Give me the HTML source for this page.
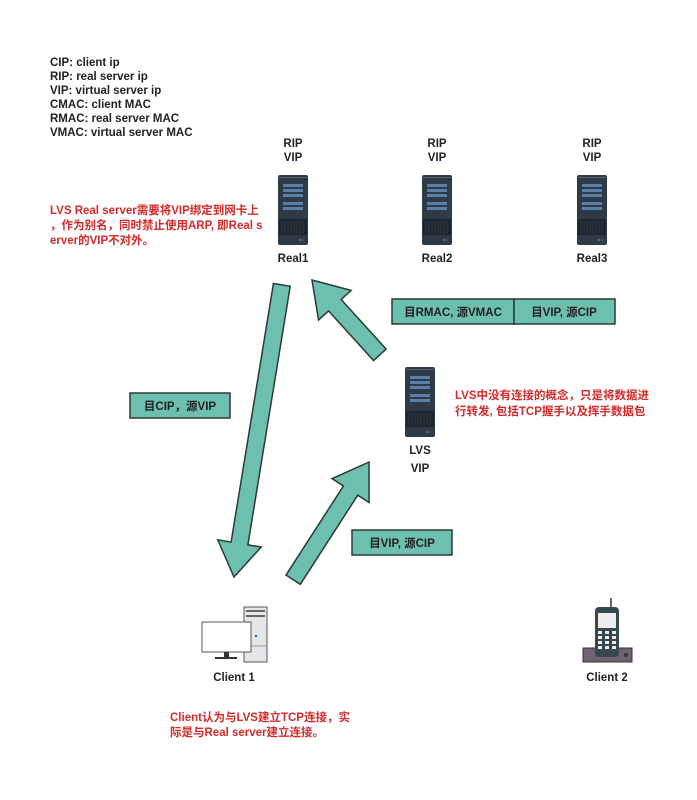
<!DOCTYPE html>
<html><head><meta charset="utf-8"><style>
body{margin:0;background:#fff;width:697px;height:800px;overflow:hidden}
svg{display:block}
text{font-family:"Liberation Sans","Noto Sans CJK SC",sans-serif;font-weight:bold}
.k{font-size:11.5px;fill:#222}
.r{font-size:11.5px;fill:#d42a2a}
.lb{font-size:11.5px;fill:#222;text-anchor:middle}
</style></head><body>
<svg width="697" height="800" viewBox="0 0 697 800">
<defs>
<symbol id="srv" viewBox="0 0 30 70">
<rect x="0" y="0" width="30" height="70" rx="2" fill="#2e3a46"/>
<rect x="1" y="2" width="28" height="1" fill="#55636f"/>
<rect x="5" y="9" width="20" height="3" fill="#5a7fa8"/>
<rect x="5" y="14" width="20" height="3" fill="#5a7fa8"/>
<rect x="5" y="19" width="20" height="3" fill="#5a7fa8"/>
<rect x="5" y="27" width="20" height="3" fill="#5a7fa8"/>
<rect x="5" y="32" width="20" height="3" fill="#5a7fa8"/>
<rect x="1" y="44" width="28" height="16" fill="#1c252d"/>
<g stroke="#3b4854" stroke-width="0.6">
<line x1="4" y1="45" x2="4" y2="59"/><line x1="7" y1="45" x2="7" y2="59"/><line x1="10" y1="45" x2="10" y2="59"/><line x1="13" y1="45" x2="13" y2="59"/><line x1="16" y1="45" x2="16" y2="59"/><line x1="19" y1="45" x2="19" y2="59"/><line x1="22" y1="45" x2="22" y2="59"/><line x1="25" y1="45" x2="25" y2="59"/>
</g>
<circle cx="22" cy="65" r="0.9" fill="#3c3"/><circle cx="25" cy="65" r="0.9" fill="#c33"/>
</symbol>
</defs>

<text class="k" x="50" y="66">CIP: client ip</text>
<text class="k" x="50" y="80">RIP: real server ip</text>
<text class="k" x="50" y="94">VIP: virtual server ip</text>
<text class="k" x="50" y="108">CMAC: client MAC</text>
<text class="k" x="50" y="122">RMAC: real server MAC</text>
<text class="k" x="50" y="136">VMAC: virtual server MAC</text>

<text class="r" x="50" y="214">LVS Real server需要将VIP绑定到网卡上</text>
<text class="r" x="50" y="229">，作为别名，同时禁止使用ARP, 即Real s</text>
<text class="r" x="50" y="244">erver的VIP不对外。</text>

<text class="lb" x="293" y="147">RIP</text><text class="lb" x="293" y="161">VIP</text>
<text class="lb" x="437" y="147">RIP</text><text class="lb" x="437" y="161">VIP</text>
<text class="lb" x="592" y="147">RIP</text><text class="lb" x="592" y="161">VIP</text>

<use href="#srv" x="278" y="175" width="30" height="70"/>
<use href="#srv" x="422" y="175" width="30" height="70"/>
<use href="#srv" x="577" y="175" width="30" height="70"/>
<use href="#srv" x="405" y="367" width="30" height="70"/>

<text class="lb" x="293" y="262">Real1</text>
<text class="lb" x="437" y="262">Real2</text>
<text class="lb" x="592" y="262">Real3</text>
<text class="lb" x="420" y="454">LVS</text>
<text class="lb" x="420" y="472">VIP</text>

<text class="r" x="455" y="399">LVS中没有连接的概念，只是将数据进</text>
<text class="r" x="455" y="415">行转发, 包括TCP握手以及挥手数据包</text>

<g fill="#6dbfae" stroke="#2b3a36" stroke-width="1.5" stroke-linejoin="miter">
<polygon transform="translate(234,577) rotate(99.3)" points="0,0 -34,-22 -34,-8.5 -296,-8.5 -296,8.5 -34,8.5 -34,22"/>
<polygon transform="translate(312,280) rotate(-132.2)" points="0,0 -34,-22 -34,-8.5 -101,-8.5 -101,8.5 -34,8.5 -34,22"/>
<polygon transform="translate(369,462) rotate(-57.2)" points="0,0 -34,-22 -34,-8.5 -140,-8.5 -140,8.5 -34,8.5 -34,22"/>
</g>

<g fill="#6dbfae" stroke="#2b3a36" stroke-width="1.5">
<rect x="392" y="299" width="122" height="25"/>
<rect x="514" y="299" width="101" height="25"/>
<rect x="130" y="393" width="100" height="25"/>
<rect x="352" y="530" width="100" height="25"/>
</g>
<text class="lb" x="453" y="316">目RMAC, 源VMAC</text>
<text class="lb" x="564" y="316">目VIP, 源CIP</text>
<text class="lb" x="180" y="410">目CIP，源VIP</text>
<text class="lb" x="402" y="547">目VIP, 源CIP</text>

<!-- Client 1 -->
<rect x="244" y="607" width="23" height="55" fill="#e4e6ea" stroke="#555" stroke-width="1"/>
<rect x="246" y="610" width="19" height="2" fill="#666"/>
<rect x="246" y="615" width="19" height="2" fill="#666"/>
<line x1="244" y1="646" x2="267" y2="646" stroke="#999"/>
<circle cx="256" cy="636" r="1.2" fill="#35c"/>
<rect x="202" y="622" width="49" height="30" fill="#fff" stroke="#555" stroke-width="1"/>
<rect x="224" y="652" width="5" height="5" fill="#333"/>
<rect x="215" y="657" width="22" height="2" fill="#333"/>
<text class="lb" x="234" y="681">Client 1</text>

<!-- Client 2 -->
<line x1="611" y1="598" x2="611" y2="608" stroke="#333" stroke-width="1.5"/>
<rect x="583" y="648" width="49" height="14" fill="#6e6470" stroke="#333"/>
<circle cx="626" cy="655" r="2" fill="#333"/>
<rect x="595" y="607" width="24" height="50" rx="4" fill="#37474f"/>
<rect x="598" y="613" width="18" height="15" fill="#eee"/>
<g fill="#eee">
<rect x="598" y="631" width="4" height="3"/><rect x="605" y="631" width="4" height="3"/><rect x="612" y="631" width="4" height="3"/>
<rect x="598" y="636" width="4" height="3"/><rect x="605" y="636" width="4" height="3"/><rect x="612" y="636" width="4" height="3"/>
<rect x="598" y="641" width="4" height="3"/><rect x="605" y="641" width="4" height="3"/><rect x="612" y="641" width="4" height="3"/>
<rect x="598" y="646" width="4" height="3"/><rect x="605" y="646" width="4" height="3"/><rect x="612" y="646" width="4" height="3"/>
</g>
<text class="lb" x="607" y="681">Client 2</text>

<text class="r" x="170" y="721">Client认为与LVS建立TCP连接，实</text>
<text class="r" x="170" y="736">际是与Real server建立连接。</text>
</svg>
</body></html>
